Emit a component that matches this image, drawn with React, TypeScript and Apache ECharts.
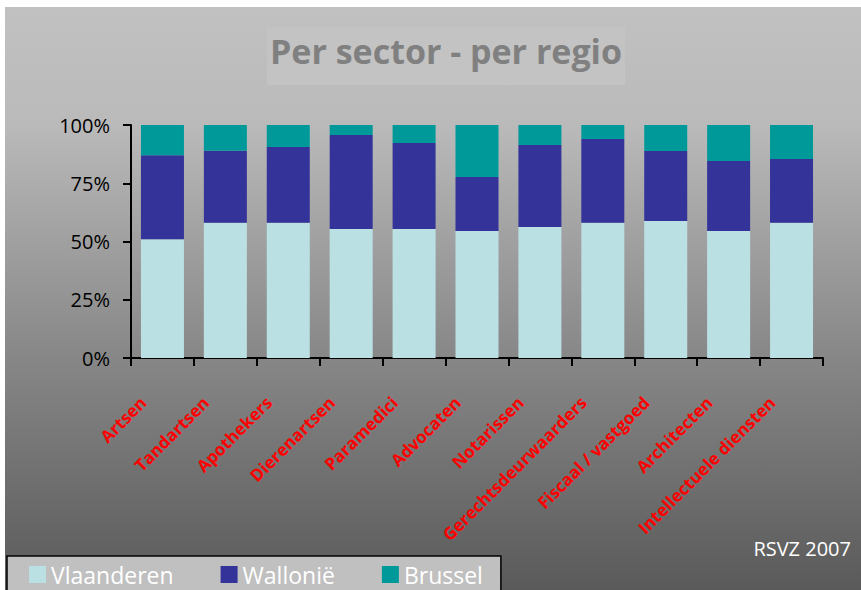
import React, { useEffect, useRef } from "react";
import * as echarts from "echarts";

const categories = [
  "Artsen",
  "Tandartsen",
  "Apothekers",
  "Dierenartsen",
  "Paramedici",
  "Advocaten",
  "Notarissen",
  "Gerechtsdeurwaarders",
  "Fiscaal / vastgoed",
  "Architecten",
  "Intellectuele diensten",
];
const vlaanderen = [51, 58, 58, 55.4, 55.4, 54.5, 56.2, 58, 58.8, 54.5, 58];
const wallonie = [36, 31, 32.6, 40.3, 36.9, 23.2, 35.2, 36, 30, 30, 27.4];
const brussel = [13, 11, 9.4, 4.3, 7.7, 22.3, 8.6, 6, 11.2, 15.5, 14.6];
const seriesNames = ["Vlaanderen", "Wallonië", "Brussel"];
const seriesColors = ["#BBE0E3", "#333399", "#009999"];
const titleText = "Per sector - per regio";
const sourceText = "RSVZ 2007";

export default function App() {
  const ref = useRef<HTMLDivElement>(null);
  useEffect(() => {
    if (!ref.current) return;
    const chart = echarts.init(ref.current, undefined, { renderer: "svg" });
    const font = "'Open Sans', 'Noto Sans', sans-serif";
    const data = [vlaanderen, wallonie, brussel];
    chart.setOption({
      animation: false,
      graphic: [
        {
          type: "rect",
          z: -100,
          silent: true,
          shape: { x: 5, y: 7, width: 856, height: 583 },
          style: {
            fill: new echarts.graphic.LinearGradient(0, 0, 0, 1, [
              { offset: 0, color: "#c1c1c1" },
              { offset: 0.2, color: "#bababa" },
              { offset: 0.6, color: "#878787" },
              { offset: 1, color: "#5a5a5a" },
            ]),
          },
        },
        {
          type: "rect",
          z: -99,
          silent: true,
          shape: { x: 267, y: 27, width: 358, height: 58 },
          style: { fill: "#c3c3c3" },
        },
        {
          type: "text",
          z: 10,
          x: 446,
          y: 51,
          style: {
            text: titleText,
            fill: "#808080",
            font: `bold 34px ${font}`,
            align: "center",
            verticalAlign: "middle",
          },
        },
        {
          type: "text",
          z: 10,
          x: 851,
          y: 548,
          style: {
            text: sourceText,
            fill: "#ffffff",
            font: `20px ${font}`,
            align: "right",
            verticalAlign: "middle",
          },
        },
      ],
      grid: { left: 131, top: 125, width: 692, height: 233, containLabel: false },
      legend: {
        data: seriesNames,
        left: 7,
        top: 556,
        orient: "horizontal",
        icon: "rect",
        itemWidth: 17,
        itemHeight: 17,
        itemGap: 47,
        padding: [7, 18, 20, 22],
        backgroundColor: "#c0c0c0",
        borderColor: "#000000",
        borderWidth: 1.5,
        borderRadius: 0,
        textStyle: { color: "#ffffff", fontSize: 23, fontFamily: font, lineHeight: 23 },
      },
      xAxis: {
        type: "category",
        data: categories,
        boundaryGap: true,
        axisLine: { show: true, lineStyle: { color: "#000", width: 2 } },
        axisTick: { show: true, length: 8, lineStyle: { color: "#000", width: 2 } },
        axisLabel: {
          interval: 0,
          rotate: 45,
          align: "right",
          verticalAlign: "top",
          color: "#ff0000",
          fontSize: 17,
          fontWeight: "bold",
          fontFamily: font,
          margin: 10,
          padding: [0, 36, 0, 0],
        },
        splitLine: { show: false },
      },
      yAxis: {
        type: "value",
        min: 0,
        max: 100,
        interval: 25,
        axisLine: { show: true, lineStyle: { color: "#000", width: 2 } },
        axisTick: { show: true, length: 8, lineStyle: { color: "#000", width: 2 } },
        axisLabel: {
          formatter: "{value}%",
          color: "#000",
          fontSize: 20,
          fontFamily: font,
          margin: 21,
        },
        splitLine: { show: false },
      },
      series: seriesNames.map((name, i) => ({
        name,
        type: "bar",
        stack: "total",
        barWidth: 43,
        data: data[i],
        itemStyle: { color: seriesColors[i] },
      })),
    });
    return () => chart.dispose();
  }, []);
  return (
    <div
      ref={ref}
      style={{ position: "absolute", left: 0, top: 0, width: 861, height: 590, background: "#fff" }}
    />
  );
}
